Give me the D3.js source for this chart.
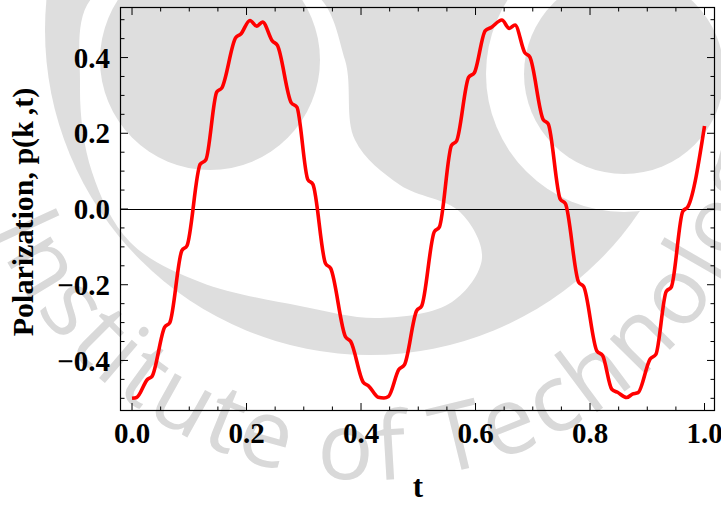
<!DOCTYPE html>
<html>
<head>
<meta charset="utf-8">
<script src="https://cdn.jsdelivr.net/npm/d3@7"></script>
<style>
  html, body { margin: 0; padding: 0; background: #ffffff; }
  svg { display: block; }
</style>
</head>
<body>
<svg id="chart" width="721" height="506"></svg>
<script>
// Polarization p(k,t) sampled along t (shoulders and turning points of the curve)
const tValues = [
  0.000, 0.008, 0.027, 0.035, 0.057, 0.066, 0.087, 0.096, 0.119, 0.129,
  0.148, 0.157, 0.181, 0.190, 0.206, 0.218, 0.228, 0.245, 0.254, 0.278,
  0.288, 0.307, 0.316, 0.338, 0.347, 0.373, 0.382, 0.404, 0.413, 0.430,
  0.440, 0.448, 0.466, 0.476, 0.497, 0.506, 0.528, 0.537, 0.558, 0.567,
  0.588, 0.598, 0.617, 0.627, 0.646, 0.659, 0.669, 0.686, 0.695, 0.718,
  0.727, 0.748, 0.757, 0.780, 0.789, 0.812, 0.822, 0.838, 0.848, 0.864,
  0.874, 0.884, 0.905, 0.915, 0.933, 0.942, 0.962, 0.971, 1.000
];
const pValues = [
  -0.500, -0.498, -0.450, -0.442, -0.312, -0.300, -0.110, -0.097, 0.118, 0.130,
  0.309, 0.320, 0.452, 0.462, 0.498, 0.483, 0.494, 0.444, 0.432, 0.281,
  0.269, 0.078, 0.065, -0.144, -0.157, -0.338, -0.350, -0.458, -0.467, -0.497,
  -0.499, -0.495, -0.424, -0.411, -0.269, -0.256, -0.060, -0.047, 0.168, 0.180,
  0.348, 0.360, 0.471, 0.479, 0.499, 0.477, 0.486, 0.413, 0.401, 0.237,
  0.225, 0.026, 0.014, -0.193, -0.205, -0.375, -0.387, -0.476, -0.484, -0.498,
  -0.489, -0.485, -0.396, -0.384, -0.218, -0.206, -0.006, 0.006, 0.219
];

const xTicks = [0.0, 0.2, 0.4, 0.6, 0.8, 1.0];
const yTicks = [-0.4, -0.2, 0.0, 0.2, 0.4];
const xMinorTicks = d3.range(0, 1.0001, 0.05);
const yMinorTicks = d3.range(-0.5, 0.5001, 0.05);

const xTitle = "t";
const yTitle = "Polarization, p(k\u2009,t)";
const watermarkText = "Institute of Technology";

const W = 721, H = 506;
const margin = { left: 120, right: 6, top: 7, bottom: 95 };
const plotW = W - margin.left - margin.right;
const plotH = H - margin.top - margin.bottom;

const svg = d3.select("#chart");

// ---- faint institutional watermark behind the plot ----
const wm = svg.append("g").attr("class", "watermark");
const wmGrey = "#dedede";
wm.append("circle").attr("cx", 370).attr("cy", 30).attr("r", 325).attr("fill", wmGrey);
// white inner field of the emblem ring
const innerField = [
  [310, -10], [345, 60], [355, 140], [400, 185], [460, 212], [482, 258],
  [452, 302], [380, 318], [300, 306], [200, 282], [130, 242], [92, 172],
  [80, 85], [95, -5]
];
wm.append("path")
  .attr("d", d3.line().curve(d3.curveCatmullRomClosed.alpha(0.5))(innerField))
  .attr("fill", "#ffffff");
wm.append("circle").attr("cx", 210).attr("cy", 60).attr("r", 110).attr("fill", wmGrey);
wm.append("circle").attr("cx", 624).attr("cy", 74).attr("r", 138).attr("fill", "#ffffff");
wm.append("circle").attr("cx", 624).attr("cy", 74).attr("r", 100).attr("fill", wmGrey);

const arcC = { x: 370, y: 70 }, arcR = 410;
const a0 = 200 * Math.PI / 180, a1 = -10 * Math.PI / 180;
wm.append("path")
  .attr("id", "wmArc")
  .attr("fill", "none")
  .attr("d", `M${arcC.x + arcR * Math.cos(a0)},${arcC.y + arcR * Math.sin(a0)} ` +
             `A${arcR},${arcR} 0 1 0 ${arcC.x + arcR * Math.cos(a1)},${arcC.y + arcR * Math.sin(a1)}`);
wm.append("text")
  .attr("font-family", "'Open Sans', sans-serif")
  .attr("font-weight", 400)
  .attr("font-size", 94)
  .attr("letter-spacing", 4)
  .attr("fill", "#d9d9d9")
  .append("textPath")
  .attr("href", "#wmArc")
  .attr("startOffset", 305)
  .text(watermarkText);

// ---- scales ----
const x = d3.scaleLinear().domain([-0.021, 1.0183]).range([margin.left, margin.left + plotW]);
const y = d3.scaleLinear().domain([-0.5335, 0.5335]).range([margin.top + plotH, margin.top]);

const x0 = margin.left, x1 = margin.left + plotW;
const y0 = margin.top, y1 = margin.top + plotH;

// zero axis line
svg.append("line")
  .attr("x1", x0).attr("x2", x1)
  .attr("y1", Math.round(y(0)) + 0.5).attr("y2", Math.round(y(0)) + 0.5)
  .attr("stroke", "#000").attr("stroke-width", 1);

// ---- data curve ----
const pts = tValues.map((t, i) => [t, pValues[i]]);
const line = d3.line()
  .x(d => x(d[0]))
  .y(d => y(d[1]))
  .curve(d3.curveMonotoneX);

svg.append("path")
  .datum(pts)
  .attr("d", line)
  .attr("fill", "none")
  .attr("stroke", "#ff0000")
  .attr("stroke-width", 3.6)
  .attr("stroke-linejoin", "round")
  .attr("stroke-linecap", "butt");

// ---- frame with inward ticks on all four sides ----
const frame = svg.append("g").attr("stroke", "#000");
frame.append("rect")
  .attr("x", x0 + 0.5).attr("y", y0 + 0.5)
  .attr("width", plotW - 1).attr("height", plotH - 1)
  .attr("fill", "none").attr("stroke-width", 1.2);

const majorLen = 8, minorLen = 4.5;
const isMajor = (v, list) => list.some(m => Math.abs(m - v) < 1e-6);

xMinorTicks.forEach(v => {
  const len = isMajor(v, xTicks) ? majorLen : minorLen;
  const xp = x(v);
  frame.append("line").attr("x1", xp).attr("x2", xp).attr("y1", y1).attr("y2", y1 - len).attr("stroke-width", 1);
  frame.append("line").attr("x1", xp).attr("x2", xp).attr("y1", y0).attr("y2", y0 + len).attr("stroke-width", 1);
});
yMinorTicks.forEach(v => {
  const len = isMajor(v, yTicks) ? majorLen : minorLen;
  const yp = y(v);
  frame.append("line").attr("x1", x0).attr("x2", x0 + len).attr("y1", yp).attr("y2", yp).attr("stroke-width", 1);
  frame.append("line").attr("x1", x1).attr("x2", x1 - len).attr("y1", yp).attr("y2", yp).attr("stroke-width", 1);
});

// ---- tick labels ----
const fmt = d3.format(".1f");
const labelFont = "'Liberation Serif', 'Times New Roman', serif";

svg.append("g").selectAll("text")
  .data(xTicks).join("text")
  .attr("x", d => x(d))
  .attr("y", 443)
  .attr("text-anchor", "middle")
  .attr("font-family", labelFont)
  .attr("font-weight", "bold")
  .attr("font-size", 29)
  .attr("fill", "#000")
  .text(d => fmt(d));

svg.append("g").selectAll("text")
  .data(yTicks).join("text")
  .attr("x", 110)
  .attr("y", d => y(d))
  .attr("dy", "0.35em")
  .attr("text-anchor", "end")
  .attr("font-family", labelFont)
  .attr("font-weight", "bold")
  .attr("font-size", 29)
  .attr("fill", "#000")
  .text(d => fmt(d));

// ---- axis titles ----
svg.append("text")
  .attr("x", 418).attr("y", 497)
  .attr("text-anchor", "middle")
  .attr("font-family", labelFont)
  .attr("font-weight", "bold")
  .attr("font-size", 31)
  .attr("fill", "#000")
  .text(xTitle);

svg.append("text")
  .attr("transform", "translate(33,212) rotate(-90)")
  .attr("text-anchor", "middle")
  .attr("font-family", labelFont)
  .attr("font-weight", "bold")
  .attr("font-size", 30)
  .attr("fill", "#000")
  .text(yTitle);
</script>
</body>
</html>
